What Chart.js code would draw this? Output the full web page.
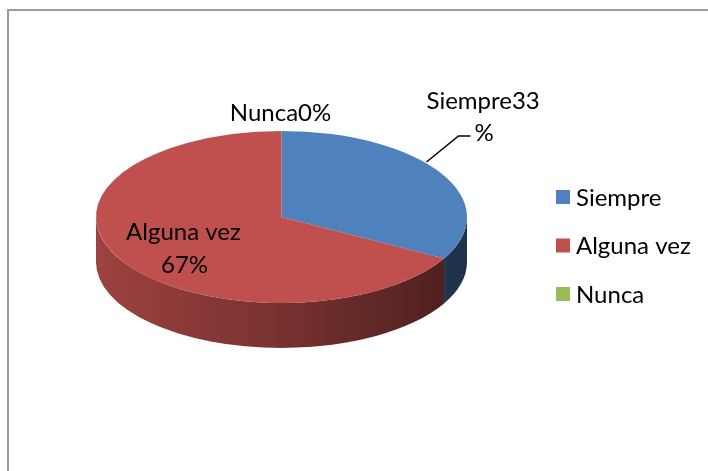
<!DOCTYPE html>
<html>
<head>
<meta charset="utf-8">
<script src="https://cdn.jsdelivr.net/npm/chart.js@4"></script>
<style>
  html, body { margin: 0; padding: 0; background: #fff; }
  #wrap { position: relative; width: 708px; height: 471px; overflow: hidden; }
  #frame { position: absolute; left: 7px; top: 9px; width: 720px; height: 480px;
    border-left: 2px solid #9a9a9a; border-top: 2px solid #9a9a9a; box-sizing: border-box; }
  canvas { position: absolute; left: 0; top: 0; }
</style>
</head>
<body>
<div id="wrap">
  <div id="frame"></div>
  <canvas id="chart-pie" width="708" height="471"></canvas>
</div>
<script>
const categories = ['Siempre', 'Alguna vez', 'Nunca'];
const percents = [33, 67, 0];
const sliceColors = ['#4F81BD', '#C0504D', '#9BBB59'];
const pointLabels = [['Siempre33', '%'], ['Alguna vez', '67%'], ['Nunca0%']];

const TILT = 86 / 185.5;   // vertical squash of the top face
const DEPTH = 45;          // height of the side wall
const FONT = "'Lato', 'Open Sans', sans-serif";

function shade(hex, f) {
  const n = parseInt(hex.slice(1), 16);
  const r = Math.round(((n >> 16) & 255) * f), g = Math.round(((n >> 8) & 255) * f), b = Math.round((n & 255) * f);
  return `rgb(${r},${g},${b})`;
}

// ── 3D pie: side walls + squashed top ──
const pie3d = {
  id: 'pie3d',
  beforeDatasetsDraw(chart) {
    const ctx = chart.ctx;
    const arcs = chart.getDatasetMeta(0).data;
    const { x: cx, y: cy, outerRadius: r } = arcs[0];
    const ry = r * TILT;
    arcs.forEach((arc, i) => {
      if (arc.endAngle - arc.startAngle <= 0) return;
      for (const off of [-2 * Math.PI, 0, 2 * Math.PI]) {
        const a1 = Math.max(arc.startAngle, off), a2 = Math.min(arc.endAngle, Math.PI + off);
        if (a2 <= a1) continue;
        const g = ctx.createLinearGradient(cx - r, 0, cx + r, 0);
        g.addColorStop(0, shade(sliceColors[i], 0.82));
        g.addColorStop(0.5, shade(sliceColors[i], 0.62));
        g.addColorStop(1, shade(sliceColors[i], 0.38));
        ctx.beginPath();
        ctx.ellipse(cx, cy, r, ry, 0, a1 - off, a2 - off);
        ctx.ellipse(cx, cy + DEPTH, r, ry, 0, a2 - off, a1 - off, true);
        ctx.closePath();
        ctx.fillStyle = g;
        ctx.fill();
      }
    });
    ctx.save();
    ctx.translate(0, cy);
    ctx.scale(1, TILT);
    ctx.translate(0, -cy);
  },
  afterDatasetsDraw(chart) {
    chart.ctx.restore();
  },
  afterDraw(chart) {
    const ctx = chart.ctx;
    const arcs = chart.getDatasetMeta(0).data;
    const { x: cx, y: cy } = arcs[0];
    ctx.save();
    ctx.fillStyle = '#000';
    ctx.font = `24px ${FONT}`;
    ctx.textBaseline = 'middle';
    // data labels
    ctx.textAlign = 'left';
    ctx.fillText(pointLabels[0][0], cx + 145, cy - 116);
    ctx.fillText(pointLabels[0][1], cx + 193, cy - 84);
    ctx.textAlign = 'center';
    ctx.fillText(pointLabels[1][0], cx - 98, cy + 15);
    ctx.fillText(pointLabels[1][1], cx - 97, cy + 48);
    ctx.fillText(pointLabels[2][0], cx - 1, cy - 104);
    // leader line
    ctx.strokeStyle = '#000';
    ctx.lineWidth = 1.5;
    ctx.beginPath();
    ctx.moveTo(cx + 145, cy - 55);
    ctx.lineTo(cx + 177, cy - 81);
    ctx.lineTo(cx + 189, cy - 81);
    ctx.stroke();
    // legend
    ctx.textAlign = 'left';
    categories.forEach((c, i) => {
      const y = 197 + i * 48.5;
      ctx.fillStyle = sliceColors[i];
      ctx.fillRect(556, y - 7, 14, 14);
      ctx.fillStyle = '#000';
      ctx.fillText(c, 576, y + 1);
    });
    ctx.restore();
  }
};

new Chart(document.getElementById('chart-pie'), {
  type: 'pie',
  data: {
    labels: categories,
    datasets: [{ data: percents, backgroundColor: sliceColors, borderWidth: 0 }]
  },
  options: {
    responsive: false,
    animation: false,
    events: [],
    layout: { padding: { left: 96, right: 241, top: 31.5, bottom: 68.5 } },
    plugins: { legend: { display: false }, tooltip: { enabled: false } }
  },
  plugins: [pie3d]
});
</script>
</body>
</html>
